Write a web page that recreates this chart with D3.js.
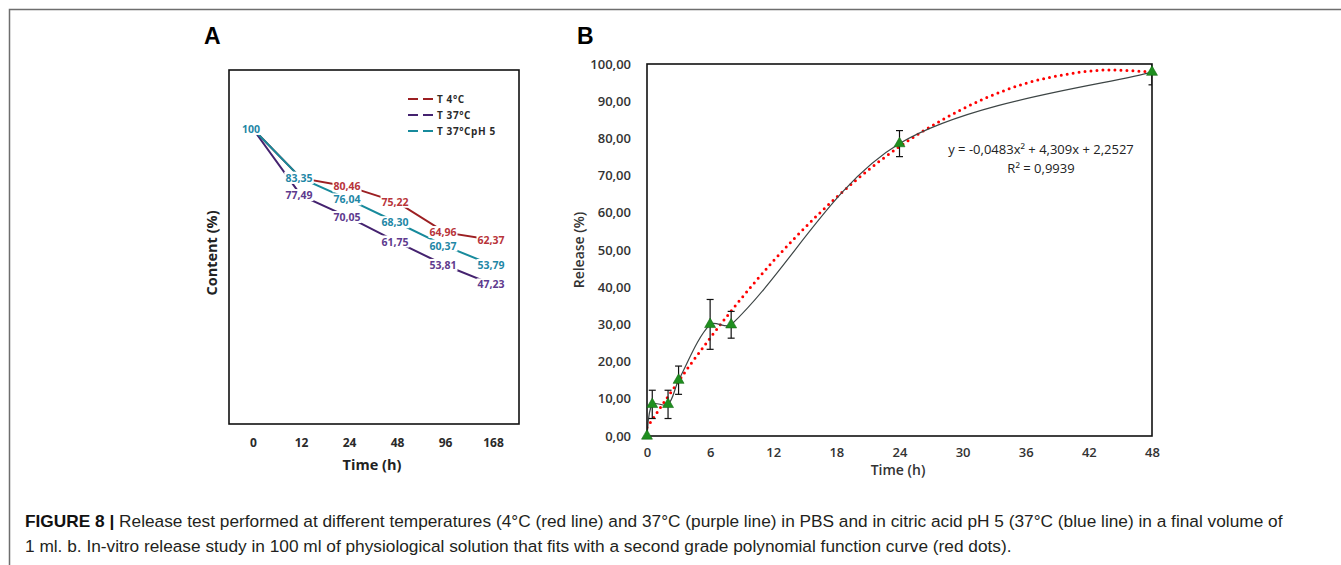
<!DOCTYPE html>
<html><head><meta charset="utf-8">
<script src="https://cdn.jsdelivr.net/npm/d3@7"></script>
<style>body{margin:0;background:#fff}</style>
</head><body><svg id="c" width="1341" height="565"></svg>
<script>
// ---------- Panel A data ----------
const timesA = ["0", "12", "24", "48", "96", "168"];
const t4 = [100, 83.35, 80.46, 75.22, 64.96, 62.37];
const t37 = [100, 77.49, 70.05, 61.75, 53.81, 47.23];
const t37ph5 = [100, 83.35, 76.04, 68.30, 60.37, 53.79];
const namesA = ["T 4°C", "T 37°C", "T 37°CpH 5"];
// ---------- Panel B data ----------
const timeB = [0, 0.5, 2, 3, 6, 8, 24, 48];
const releaseB = [0, 8.5, 8.5, 15.0, 30.0, 29.9, 78.6, 97.8];
const errB = [0, 3.8, 3.8, 3.8, 6.7, 3.6, 3.5, 3.4];
const fitX = [0, 4, 8, 12, 16, 20, 24, 28, 32, 36, 40, 44, 48];
const fitY = [2.3, 18.7, 33.6, 47.0, 58.8, 69.1, 77.8, 84.9, 90.6, 94.8, 97.3, 98.4, 97.8];
const yTicksB = [0, 10, 20, 30, 40, 50, 60, 70, 80, 90, 100];
const xTicksB = [0, 6, 12, 18, 24, 30, 36, 42, 48];
const equationText = "y = -0,0483x² + 4,309x + 2,2527";
const r2Text = "R² = 0,9939";
const captionBold = "FIGURE 8 | ";
const caption1 = "Release test performed at different temperatures (4°C (red line) and 37°C (purple line) in PBS and in citric acid pH 5 (37°C (blue line) in a final volume of";
const caption2 = "1 ml. b. In-vitro release study in 100 ml of physiological solution that fits with a second grade polynomial function curve (red dots).";

const svg = d3.select("#c");
const FA = "'Open Sans', 'DejaVu Sans', sans-serif";

// page border
svg.append("path").attr("d", "M9.5,565 L9.5,9.5 L1341,9.5")
  .attr("fill", "none").attr("stroke", "#6e6e6e").attr("stroke-width", 1.5);

// panel letters
svg.append("text").attr("x", 204).attr("y", 44).text("A")
  .attr("font-family", "'Liberation Sans', Arial, sans-serif").attr("font-weight", 700).attr("font-size", 23).attr("fill", "#000");
svg.append("text").attr("x", 577).attr("y", 44).text("B")
  .attr("font-family", "'Liberation Sans', Arial, sans-serif").attr("font-weight", 700).attr("font-size", 23).attr("fill", "#000");

// ================= Panel A =================
const A = {l: 229, r: 519, t: 70, b: 424};
const xA = d3.scalePoint().domain(timesA).range([A.l, A.r - 2]).padding(0.5);
const yA = d3.scaleLinear().domain([0, 120]).range([A.b, A.t]);

const seriesA = [
  {name: namesA[0], vals: t4, line: "#9c1f22", text: "#b8343a"},
  {name: namesA[1], vals: t37, line: "#44226f", text: "#5e3a8e"},
  {name: namesA[2], vals: t37ph5, line: "#178a9c", text: "#1f87a6"}
];

const gA = svg.append("g");
const lineA = d3.line().x((d, i) => xA(timesA[i])).y(d => yA(d));
seriesA.forEach(s => {
  gA.append("path").attr("d", lineA(s.vals)).attr("fill", "none")
    .attr("stroke", s.line).attr("stroke-width", 2);
});
// data labels with white boxes (hide the line under them)
seriesA.forEach(s => {
  s.vals.forEach((v, i) => {
    const g = gA.append("g");
    const t = g.append("text").attr("x", xA(timesA[i]) - 2).attr("y", yA(v))
      .attr("dy", "0.35em").attr("text-anchor", "middle")
      .attr("font-family", FA).attr("font-weight", 700).attr("font-size", 10.5)
      .attr("fill", s.text)
      .text(i === 0 ? "100" : d3.format(".2f")(v).replace(".", ","));
    const bb = t.node().getBBox();
    g.insert("rect", "text").attr("x", bb.x - 1).attr("y", bb.y + 1)
      .attr("width", bb.width + 2).attr("height", bb.height - 2).attr("fill", "#fff");
  });
});

// frame A
gA.append("rect").attr("x", A.l).attr("y", A.t).attr("width", A.r - A.l).attr("height", A.b - A.t)
  .attr("fill", "none").attr("stroke", "#111").attr("stroke-width", 1.6);

// x axis A
const axA = gA.append("g").attr("transform", `translate(0,${A.b})`)
  .call(d3.axisBottom(xA).tickSize(0).tickPadding(14));
axA.select(".domain").remove();
axA.selectAll("text").attr("font-family", FA).attr("font-weight", 700).attr("font-size", 12).attr("fill", "#2a2a2a");

gA.append("text").attr("x", 372).attr("y", 470).attr("text-anchor", "middle")
  .attr("font-family", FA).attr("font-weight", 700).attr("font-size", 14.5).attr("fill", "#222").text("Time (h)");
gA.append("text").attr("transform", "translate(217,253) rotate(-90)").attr("text-anchor", "middle")
  .attr("font-family", FA).attr("font-weight", 700).attr("font-size", 14.5).attr("fill", "#222").text("Content (%)");

// legend A
const legY = d3.scalePoint().domain(namesA).range([99, 131]);
seriesA.forEach(s => {
  const y = legY(s.name);
  gA.append("line").attr("x1", 408).attr("x2", 437).attr("y1", y).attr("y2", y)
    .attr("stroke", s.line).attr("stroke-width", 2).attr("stroke-dasharray", "10,5");
  gA.append("text").attr("x", 437).attr("y", y).attr("dy", "0.35em")
    .attr("font-family", FA).attr("font-weight", 700).attr("font-size", 10).attr("fill", "#2a2a2a")
    .attr("letter-spacing", 0.6).text(s.name);
});

// ================= Panel B =================
const B = {l: 647, r: 1152, t: 64, b: 436};
const xB = d3.scaleLinear().domain([0, 48]).range([B.l, B.r]);
const yB = d3.scaleLinear().domain([0, 100]).range([B.b, B.t]);
const gB = svg.append("g");
const FB = "'Open Sans', 'DejaVu Sans', sans-serif";

svg.append("defs").append("clipPath").attr("id", "clipB").append("rect")
  .attr("x", B.l).attr("y", B.t).attr("width", B.r - B.l).attr("height", B.b - B.t);

// axes B
const ayB = gB.append("g").attr("transform", `translate(${B.l},0)`)
  .call(d3.axisLeft(yB).tickValues(yTicksB).tickSize(0).tickPadding(16)
    .tickFormat(d => d3.format(".2f")(d).replace(".", ",")));
ayB.select(".domain").remove();
ayB.selectAll("text").attr("font-family", FB).attr("font-weight", 600).attr("font-size", 13).attr("fill", "#333");

const axB = gB.append("g").attr("transform", `translate(0,${B.b})`)
  .call(d3.axisBottom(xB).tickValues(xTicksB).tickSize(0).tickPadding(12));
axB.select(".domain").remove();
axB.selectAll("text").attr("font-family", FB).attr("font-weight", 600).attr("font-size", 13).attr("fill", "#333");

gB.append("text").attr("x", 898).attr("y", 475).attr("text-anchor", "middle")
  .attr("font-family", FB).attr("font-weight", 600).attr("font-size", 14).attr("fill", "#333").text("Time (h)");
gB.append("text").attr("transform", "translate(584,250) rotate(-90)").attr("text-anchor", "middle")
  .attr("font-family", FB).attr("font-weight", 600).attr("font-size", 14).attr("fill", "#333").text("Release (%)");

const plotB = gB.append("g").attr("clip-path", "url(#clipB)");
// fitted polynomial (red dots)
const fitPts = fitX.map((x, i) => [x, fitY[i]]);
plotB.append("path").attr("d", d3.line().x(d => xB(d[0])).y(d => yB(d[1])).curve(d3.curveMonotoneX)(fitPts))
  .attr("fill", "none").attr("stroke", "#ff0000").attr("stroke-width", 3)
  .attr("stroke-linecap", "round").attr("stroke-dasharray", "0,6");

// data line: spreadsheet-style smoothed Bezier (tangents scaled by chord lengths)
function smoothPath(P) {
  const p = d3.path();
  const n = P.length;
  const dist = (a, b) => Math.hypot(b[0] - a[0], b[1] - a[1]);
  p.moveTo(P[0][0], P[0][1]);
  for (let i = 0; i < n - 1; i++) {
    const p1 = P[i], p2 = P[i + 1];
    const d12 = dist(p1, p2);
    let c1, c2;
    if (i === 0) {
      c1 = [p1[0] + (p2[0] - p1[0]) / 6, p1[1] + (p2[1] - p1[1]) / 6];
    } else {
      const p0 = P[i - 1], f = d12 / (dist(p0, p1) + d12) / 3;
      c1 = [p1[0] + (p2[0] - p0[0]) * f, p1[1] + (p2[1] - p0[1]) * f];
    }
    if (i === n - 2) {
      c2 = [p2[0] - (p2[0] - p1[0]) / 6, p2[1] - (p2[1] - p1[1]) / 6];
    } else {
      const p3 = P[i + 2], f = d12 / (d12 + dist(p2, p3)) / 3;
      c2 = [p2[0] - (p3[0] - p1[0]) * f, p2[1] - (p3[1] - p1[1]) * f];
    }
    p.bezierCurveTo(c1[0], c1[1], c2[0], c2[1], p2[0], p2[1]);
  }
  return p.toString();
}
const pts = timeB.map((t, i) => [t, releaseB[i]]);
plotB.append("path").attr("d", smoothPath(pts.map(d => [xB(d[0]), yB(d[1])])))
  .attr("fill", "none").attr("stroke", "#3d4545").attr("stroke-width", 1.2);

// error bars
const gErr = svg.append("g").attr("clip-path", "url(#clipB)");
pts.forEach((p, i) => {
  if (!errB[i]) return;
  const x = xB(p[0]), y1 = yB(p[1] + errB[i]), y2 = yB(p[1] - errB[i]);
  gErr.append("line").attr("x1", x).attr("x2", x).attr("y1", y1).attr("y2", y2).attr("stroke", "#111").attr("stroke-width", 1.2);
  [y1, y2].forEach(y => gErr.append("line").attr("x1", x - 3.5).attr("x2", x + 3.5).attr("y1", y).attr("y2", y)
    .attr("stroke", "#111").attr("stroke-width", 1.2));
});

// frame B
gB.append("rect").attr("x", B.l).attr("y", B.t).attr("width", B.r - B.l).attr("height", B.b - B.t)
  .attr("fill", "none").attr("stroke", "#111").attr("stroke-width", 1.6);

// markers
const tri = d3.symbol().type(d3.symbolTriangle).size(52);
pts.forEach(p => {
  svg.append("path").attr("d", tri()).attr("transform", `translate(${xB(p[0])},${yB(p[1])})`)
    .attr("fill", "#1f8f1f").attr("stroke", "#156b15").attr("stroke-width", 0.6);
});

// equation
gB.append("text").attr("x", 1041).attr("y", 154).attr("text-anchor", "middle")
  .attr("font-family", FB).attr("font-size", 13).attr("fill", "#222").text(equationText);
gB.append("text").attr("x", 1041).attr("y", 173).attr("text-anchor", "middle")
  .attr("font-family", FB).attr("font-size", 13).attr("fill", "#222").text(r2Text);

// ================= caption =================
const FC = "'Liberation Sans', Arial, sans-serif";
function captionLine(y, boldPart, rest) {
  const t = svg.append("text").attr("x", 25).attr("y", y)
    .attr("font-family", FC).attr("font-size", 14).attr("fill", "#231f20");
  if (boldPart) t.append("tspan").attr("font-weight", 700).attr("fill", "#111").text(boldPart);
  t.append("tspan").text(rest);
  return t;
}
const c1 = captionLine(527, captionBold, caption1);
const c2 = captionLine(552, "", caption2);
const w1 = c1.node().getComputedTextLength();
const fs = 14 * 1258 / w1;
c1.attr("font-size", fs);
c2.attr("font-size", fs);
</script></body></html>
